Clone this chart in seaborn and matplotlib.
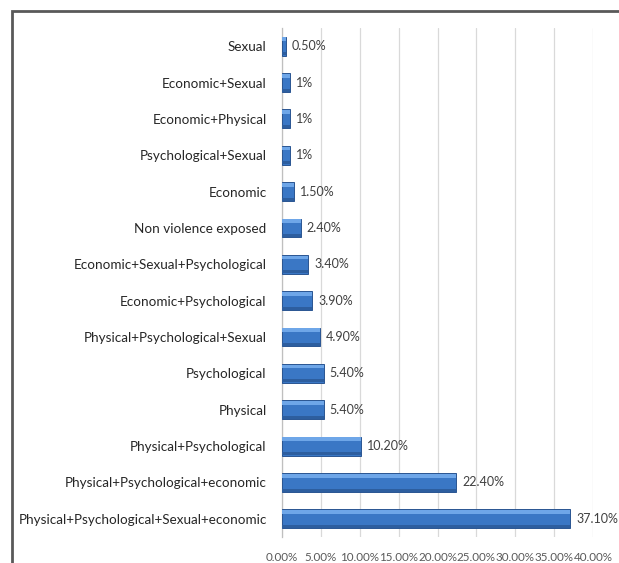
import matplotlib
matplotlib.use("Agg")
import matplotlib.pyplot as plt
import seaborn as sns
import pandas as pd
from matplotlib.patches import Rectangle

categories = [
    "Sexual",
    "Economic+Sexual",
    "Economic+Physical",
    "Psychological+Sexual",
    "Economic",
    "Non violence exposed",
    "Economic+Sexual+Psychological",
    "Economic+Psychological",
    "Physical+Psychological+Sexual",
    "Psychological",
    "Physical",
    "Physical+Psychological",
    "Physical+Psychological+economic",
    "Physical+Psychological+Sexual+economic",
]
values = [0.5, 1, 1, 1, 1.5, 2.4, 3.4, 3.9, 4.9, 5.4, 5.4, 10.2, 22.4, 37.1]
value_labels = ["0.50%", "1%", "1%", "1%", "1.50%", "2.40%", "3.40%", "3.90%",
                "4.90%", "5.40%", "5.40%", "10.20%", "22.40%", "37.10%"]
x_ticks = [0, 5, 10, 15, 20, 25, 30, 35, 40]
x_tick_labels = ["0.00%", "5.00%", "10.00%", "15.00%", "20.00%", "25.00%",
                 "30.00%", "35.00%", "40.00%"]

df = pd.DataFrame({"category": categories, "value": values})

sns.set_theme(style="white")
plt.rcParams["font.family"] = ["Lato", "DejaVu Sans"]

fig = plt.figure(figsize=(6.19, 5.63), dpi=100)
ax = fig.add_axes([282 / 619, 1 - 537 / 563, (593 - 282) / 619, (537 - 28) / 563])

sns.barplot(data=df, x="value", y="category", orient="h", ax=ax,
            color="#3a77c5", saturation=1, width=0.52,
            edgecolor="#2a5592", linewidth=0.7, zorder=3)

# bevelled look: light band along the top, dark band along the bottom
bars = list(ax.patches[:len(values)])
for p in bars:
    x0, y0 = p.get_x(), p.get_y()
    w, h = p.get_width(), p.get_height()
    ax.add_patch(Rectangle((x0, y0 + h * 0.04), w, h * 0.2,
                           facecolor="#6ea6e8", edgecolor="none", zorder=4))
    ax.add_patch(Rectangle((x0, y0 + h * 0.82), w, h * 0.16,
                           facecolor="#2d5e9f", edgecolor="none", zorder=4))

for p, lab in zip(bars, value_labels):
    ax.text(p.get_width() + 0.75, p.get_y() + p.get_height() / 2, lab,
            va="center", ha="left", fontsize=9, color="#404040", zorder=5)

ax.set_xlim(0, 40)
ax.set_xticks(x_ticks)
ax.set_xticklabels(x_tick_labels, fontsize=8.4, color="#595959")
ax.tick_params(axis="x", length=0, pad=11)
ax.tick_params(axis="y", length=0, pad=11, labelsize=9.7, labelcolor="#262626")
ax.set_xlabel("")
ax.set_ylabel("")
ax.xaxis.grid(True, color="#d9d9d9", linewidth=0.9, zorder=0)
ax.set_axisbelow(True)
for side in ["top", "right", "bottom"]:
    ax.spines[side].set_visible(False)
ax.spines["left"].set_color("#bfbfbf")
ax.spines["left"].set_linewidth(0.9)

# outer frame around the chart area
fig.patches.append(Rectangle((11.5 / 619, -0.1), 1.2, 1 - 11.5 / 563 + 0.1,
                             transform=fig.transFigure, fill=False,
                             edgecolor="#595959", linewidth=2, zorder=10))

fig.savefig("out.png", dpi=100)
